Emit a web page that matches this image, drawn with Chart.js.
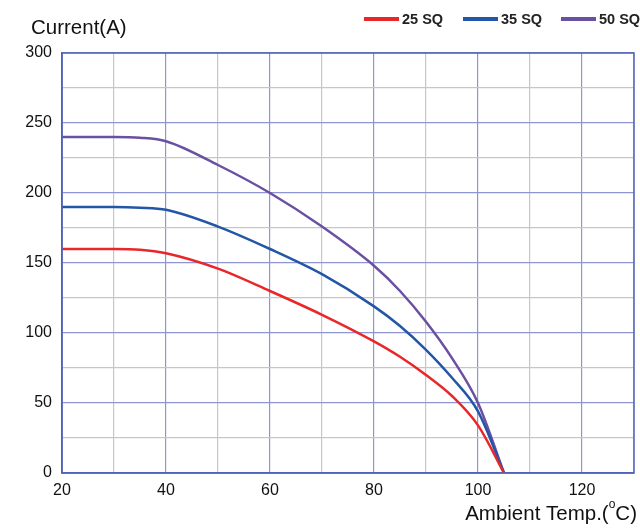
<!DOCTYPE html>
<html>
<head>
<meta charset="utf-8">
<script src="https://cdn.jsdelivr.net/npm/chart.js@4"></script>
<style>
  html, body { margin: 0; padding: 0; background: #fff; }
  #wrap { width: 640px; height: 529px; }
</style>
</head>
<body>
<div id="wrap"><canvas id="c" width="640" height="529"></canvas></div>
<script>
// Ambient temperature (°C) at which each current is sampled
const temps = [20, 30, 35, 40, 50, 60, 70, 80, 85, 90, 95, 100, 105];
// Allowed current (A) per conductor size
const sq25 = [160, 160, 159.5, 157, 146, 130, 113, 94, 83, 70, 55, 34, 0];
const sq35 = [190, 190, 189.5, 188, 176, 160, 142, 119, 105, 88, 68, 44, 0];
const sq50 = [240, 240, 239.5, 237, 220, 200, 176, 148, 130, 108, 82, 50, 0];
const seriesNames = ['25 SQ', '35 SQ', '50 SQ'];
const seriesColors = ['#e8272b', '#2356a6', '#6a50a2'];

const FONT = '"Liberation Sans", Arial, Helvetica, sans-serif';
const MAJOR = '#8e95d2';
const MINOR = '#c6c6c6';
const FRAME = '#4f63b8';

const toXY = (ys) => temps.map((t, i) => ({ x: t, y: ys[i] }));

const frameAndTitles = {
  id: 'frameAndTitles',
  afterDraw(chart) {
    const { ctx, chartArea: a } = chart;
    ctx.save();
    // plot frame
    ctx.strokeStyle = FRAME;
    ctx.lineWidth = 1.5;
    ctx.strokeRect(a.left, a.top, a.right - a.left, a.bottom - a.top);

    ctx.fillStyle = '#111';
    ctx.textBaseline = 'alphabetic';
    // y-axis title
    ctx.font = '20.5px ' + FONT;
    ctx.textAlign = 'left';
    ctx.fillText('Current(A)', 31, 34);

    // x-axis title with superscript degree mark
    const right = 637, base = 520;
    const big = '20.5px ' + FONT, small = '12px ' + FONT;
    ctx.font = big;
    const tail = 'C)';
    const wTail = ctx.measureText(tail).width;
    const head = 'Ambient Temp.(';
    const wHead = ctx.measureText(head).width;
    ctx.font = small;
    const sup = 'o';
    const wSup = ctx.measureText(sup).width;
    let x = right - wTail - wSup - wHead;
    ctx.font = big;
    ctx.fillText(head, x, base);
    x += wHead;
    ctx.font = small;
    ctx.fillText(sup, x, base - 12);
    x += wSup;
    ctx.font = big;
    ctx.fillText(tail, x, base);

    // legend
    ctx.font = 'bold 14.5px ' + FONT;
    const items = [364, 463, 561];
    items.forEach((lx, i) => {
      ctx.fillStyle = seriesColors[i];
      ctx.fillRect(lx, 17, 35, 4);
      ctx.fillStyle = '#222';
      ctx.fillText(seriesNames[i], lx + 38, 24);
    });
    ctx.restore();
  }
};

new Chart(document.getElementById('c'), {
  type: 'line',
  data: {
    datasets: [sq25, sq35, sq50].map((ys, i) => ({
      label: seriesNames[i],
      data: toXY(ys),
      borderColor: seriesColors[i],
      backgroundColor: seriesColors[i],
      borderWidth: 2.5,
      pointRadius: 0,
      cubicInterpolationMode: 'monotone',
      fill: false
    }))
  },
  options: {
    responsive: false,
    animation: false,
    layout: { padding: { top: 53, right: 6, left: 0, bottom: 0 } },
    plugins: { legend: { display: false }, tooltip: { enabled: false } },
    scales: {
      x: {
        type: 'linear',
        min: 20, max: 130,
        afterFit: (s) => { s.height = 56; s.paddingRight = 0; },
        afterBuildTicks: (s) => {
          const t = [];
          for (let v = 20; v <= 130; v += 10) t.push({ value: v });
          s.ticks = t;
        },
        ticks: {
          autoSkip: false,
          maxRotation: 0,
          padding: 8,
          color: '#111',
          font: { family: FONT, size: 16 },
          callback: (v) => (v % 20 === 0 && v < 130 ? String(v) : '')
        },
        grid: {
          drawTicks: false,
          lineWidth: 1.2,
          color: (c) => (c.tick && c.tick.value % 20 === 0 ? MAJOR : MINOR)
        },
        border: { color: FRAME, width: 1.5 }
      },
      y: {
        min: 0, max: 300,
        afterFit: (s) => { s.width = 62; },
        afterBuildTicks: (s) => {
          const t = [];
          for (let v = 0; v <= 300; v += 25) t.push({ value: v });
          s.ticks = t;
        },
        ticks: {
          autoSkip: false,
          padding: 10,
          color: '#111',
          font: { family: FONT, size: 16 },
          callback: (v) => (v % 50 === 0 ? String(v) : '')
        },
        grid: {
          drawTicks: false,
          lineWidth: 1.2,
          color: (c) => (c.tick && c.tick.value % 50 === 0 ? MAJOR : MINOR)
        },
        border: { color: FRAME, width: 1.5 }
      }
    }
  },
  plugins: [frameAndTitles]
});
</script>
</body>
</html>
